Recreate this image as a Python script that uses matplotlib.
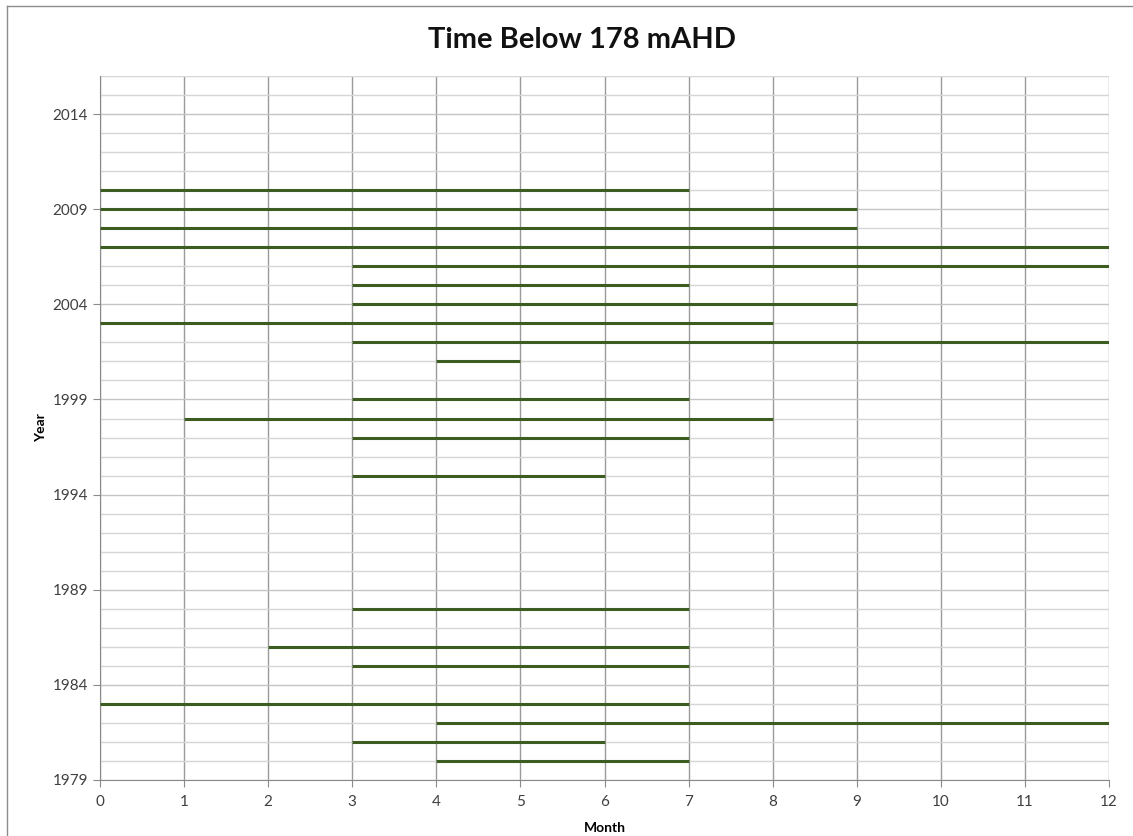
import numpy as np
import matplotlib
matplotlib.use("Agg")
import matplotlib.pyplot as plt
from matplotlib.lines import Line2D

plt.rcParams['font.family'] = ['Lato', 'DejaVu Sans']

# periods below 178 mAHD: year, start month, end month
years = [2010, 2009, 2008, 2007, 2006, 2005, 2004, 2003, 2002, 2001,
         1999, 1998, 1997, 1995,
         1988, 1986, 1985, 1983, 1982, 1981, 1980]
start_month = [0, 0, 0, 0, 3, 3, 3, 0, 3, 4,
               3, 1, 3, 3,
               3, 2, 3, 0, 4, 3, 4]
end_month = [7, 9, 9, 12, 12, 7, 9, 8, 12, 5,
             7, 8, 7, 6,
             7, 7, 7, 7, 12, 6, 7]

year_ticks = [1979, 1984, 1989, 1994, 1999, 2004, 2009, 2014]
month_ticks = list(range(0, 13))

fig = plt.figure(figsize=(11.33, 8.36), dpi=100)
ax = fig.add_axes([0.0883, 0.067, 0.8905, 0.842])

ax.hlines(years, start_month, end_month, color='#3d5c22', linewidth=2.2, zorder=3)

ax.set_xlim(0, 12)
ax.set_ylim(1979, 2016)
ax.set_xticks(month_ticks)
ax.set_yticks(year_ticks)
ax.set_yticks(np.arange(1979, 2017), minor=True)

ax.grid(True, which='major', axis='x', color='#9a9a9a', linewidth=1.0)
ax.grid(True, which='major', axis='y', color='#c4c4c4', linewidth=1.0)
ax.grid(True, which='minor', axis='y', color='#d6d6d6', linewidth=1.0)
ax.set_axisbelow(True)

for side in ['top', 'right']:
    ax.spines[side].set_visible(False)
ax.spines['left'].set_color('#8a8a8a')
ax.spines['bottom'].set_color('#8a8a8a')
ax.tick_params(axis='both', which='major', length=5, color='#8a8a8a',
               labelsize=11, labelcolor='#404040')
ax.tick_params(axis='y', which='minor', length=0)
ax.tick_params(axis='x', pad=6)

fig.text(0.514, 0.952, 'Time Below 178 mAHD', fontsize=21, fontweight='bold',
         color='#111111', ha='center', va='center')
ax.set_xlabel('Month', fontsize=10, fontweight='bold', labelpad=9)
ax.set_ylabel('Year', fontsize=10, fontweight='bold', labelpad=4)

# chart frame (top and left edges only, the rest runs off the page)
frame = dict(transform=fig.transFigure, color='#8c8c8c', linewidth=1.0)
fig.lines.append(Line2D([0.006, 1.0], [0.993, 0.993], **frame))
fig.lines.append(Line2D([0.006, 0.006], [0.0, 0.993], **frame))

fig.savefig('out.png', dpi=100)
